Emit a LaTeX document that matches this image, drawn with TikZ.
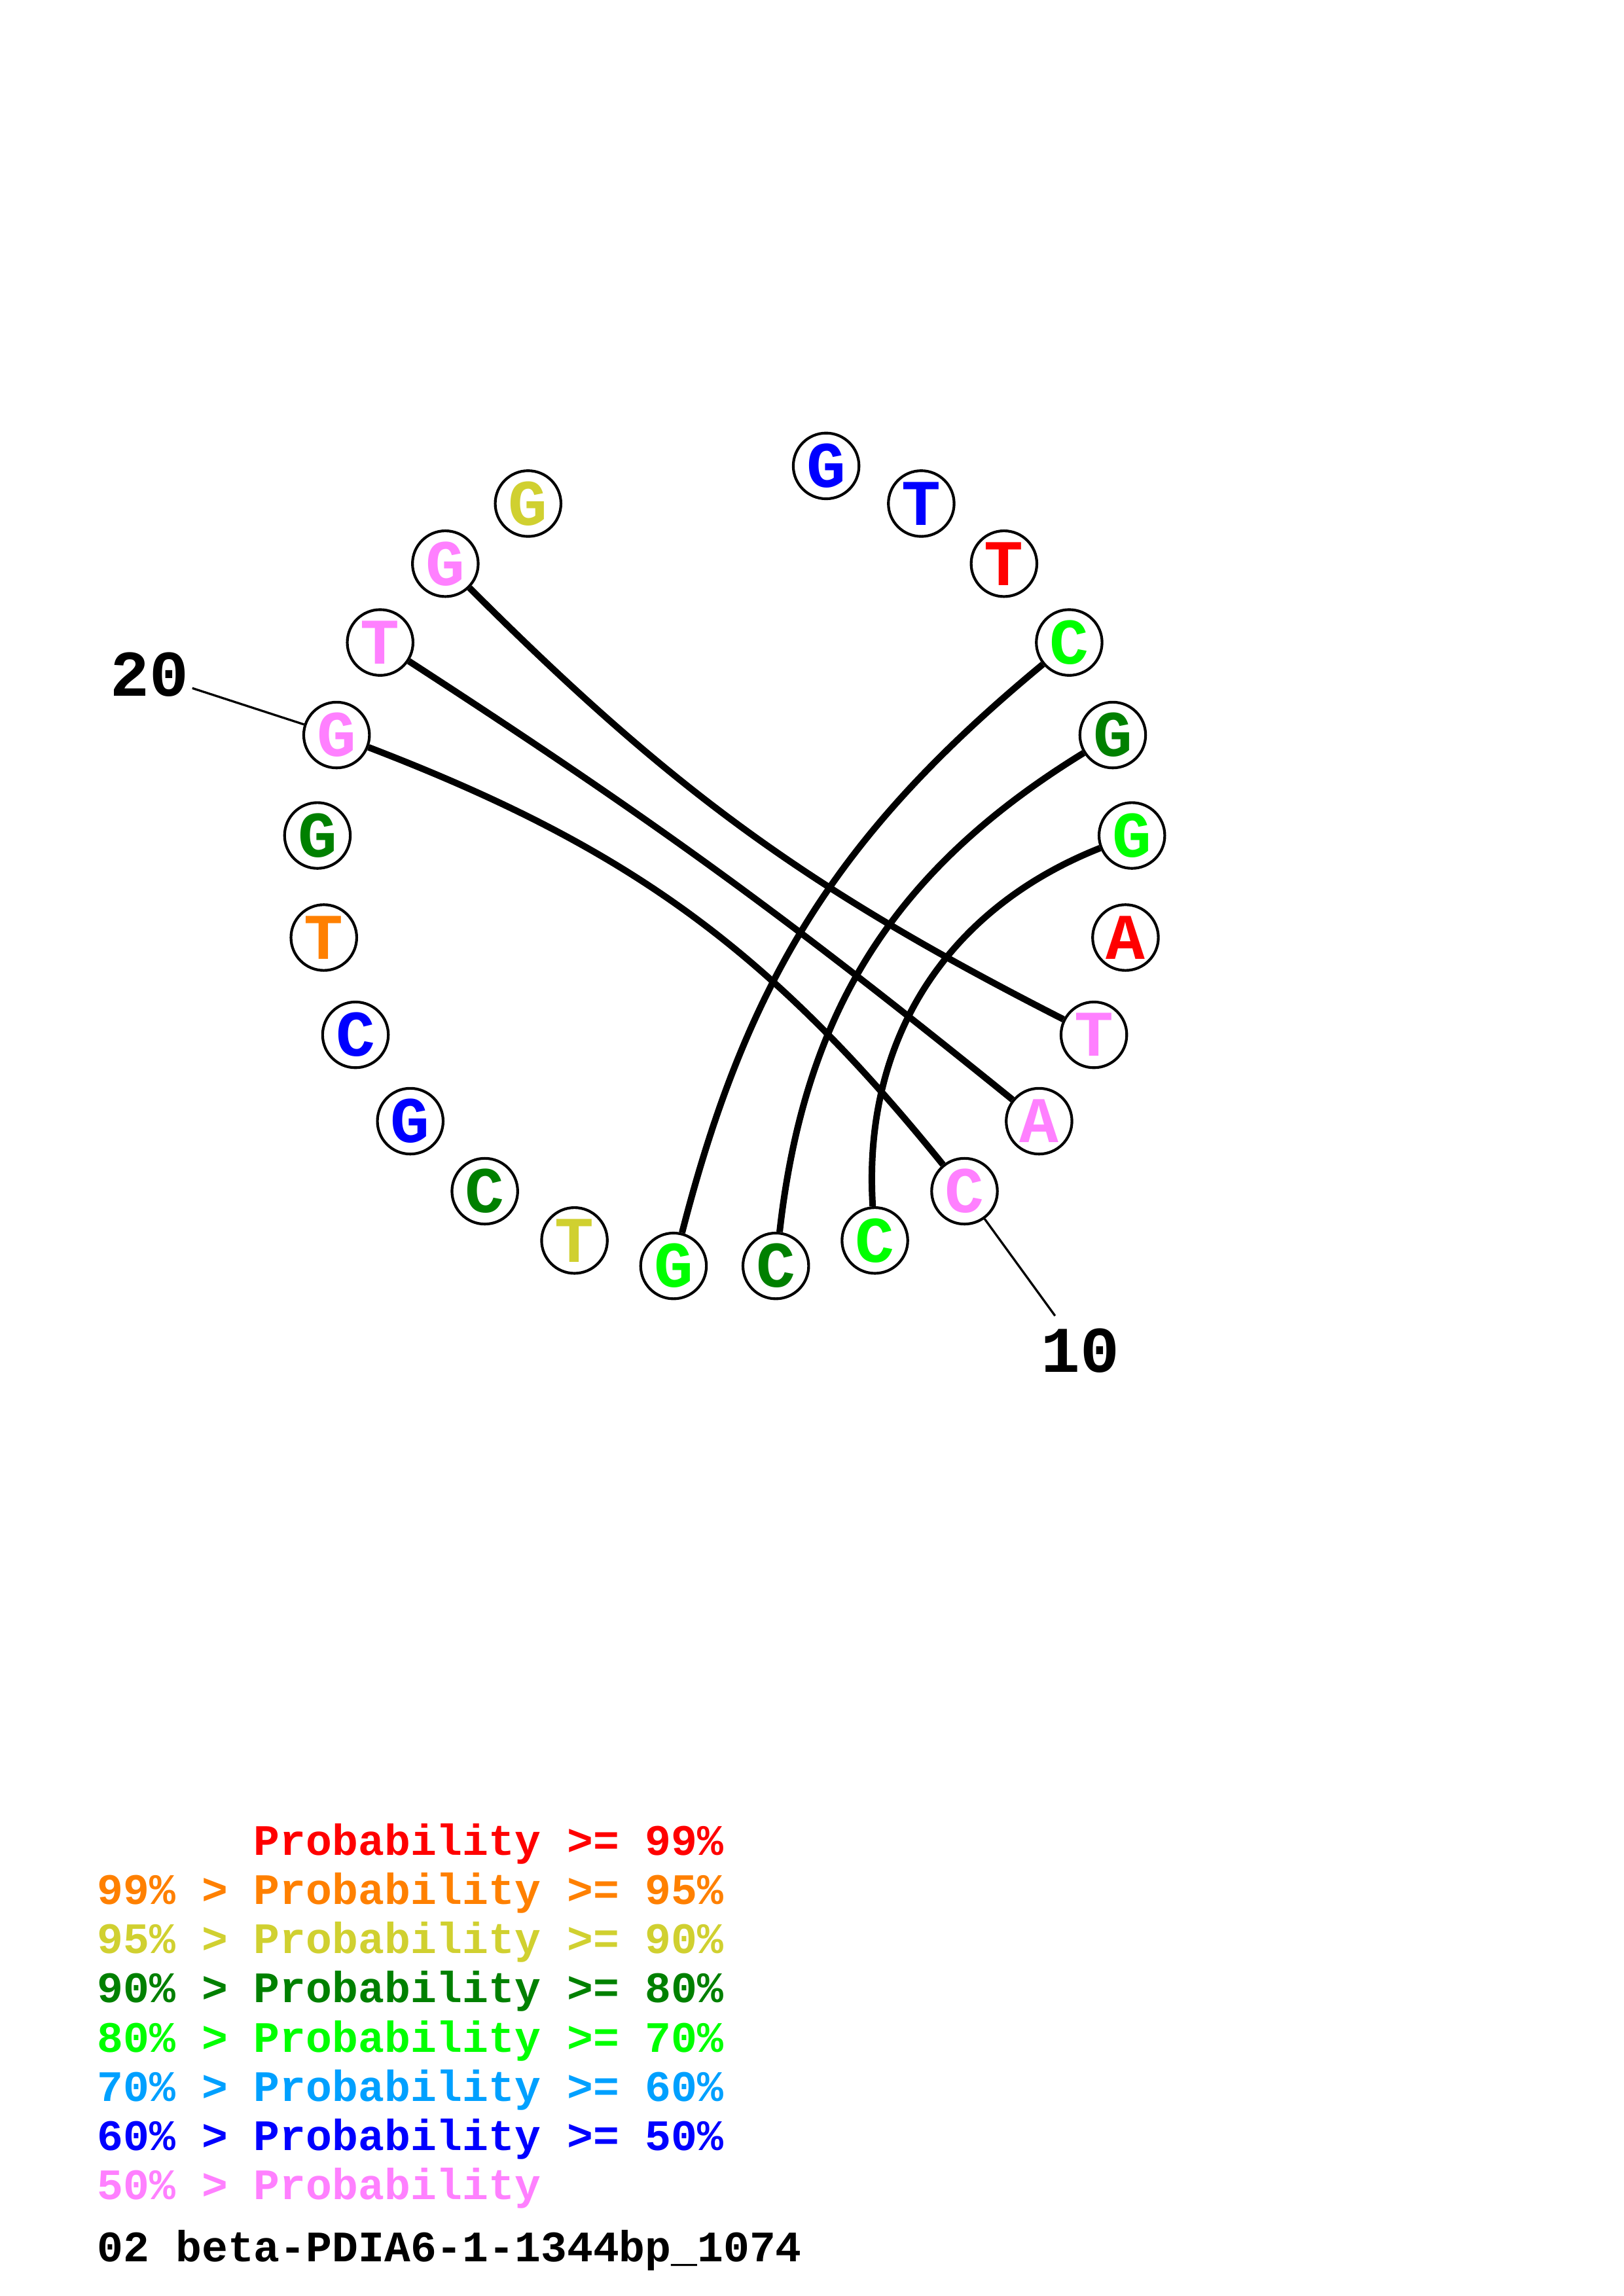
\documentclass[tikz,border=0pt]{standalone}
\usepackage{fontspec}
\setmonofont{Liberation Mono}
\definecolor{pr99}{RGB}{255,0,0}
\definecolor{pr95}{RGB}{255,128,0}
\definecolor{pr90}{RGB}{208,208,48}
\definecolor{pr80}{RGB}{0,128,0}
\definecolor{pr70}{RGB}{0,255,0}
\definecolor{pr60}{RGB}{0,160,255}
\definecolor{pr50}{RGB}{0,0,255}
\definecolor{prlow}{RGB}{255,128,255}
\tikzset{
  base/.style={circle, draw, line width=1pt, fill=white, minimum size=0.85cm, inner sep=0pt,
    font=\ttfamily\bfseries\fontsize{24}{24}\selectfont},
  pair/.style={line width=2.4pt},
  tick/.style={line width=0.8pt},
  numlabel/.style={inner sep=0pt, font=\ttfamily\bfseries\fontsize{24}{24}\selectfont},
  legend/.style={anchor=base west, inner sep=0pt, font=\ttfamily\bfseries\fontsize{16}{16}\selectfont},
}
\begin{document}
\begin{tikzpicture}
\useasboundingbox (-9.373,-18.561) rectangle (11.627,11.139);
\foreach \i/\b/\c in {1/G/pr50, 2/T/pr50, 3/T/pr99, 4/C/pr70, 5/G/pr80, 6/G/pr70, 7/A/pr99,
    8/T/prlow, 9/A/prlow, 10/C/prlow, 11/C/pr70, 12/C/pr80, 13/G/pr70, 14/T/pr90, 15/C/pr80,
    16/G/pr50, 17/C/pr50, 18/T/pr95, 19/G/pr80, 20/G/prlow, 21/T/prlow, 22/G/prlow, 23/G/pr90} {
  \node[base, text=\c] (N\i) at ({90-14.4*\i}:5.278) {\b};
}
\draw[pair] (N4) to[bend right=18] (N13);
\draw[pair] (N5) to[bend right=26] (N12);
\draw[pair] (N6) to[bend right=36] (N11);
\draw[pair] (N10) to[bend right=15] (N20);
\draw[pair] (N9) to[bend right=3] (N21);
\draw[pair] (N8) to[bend left=9] (N22);

\coordinate (T10) at (-54:7.27);
\coordinate (T20) at (162:7.24);
\node[numlabel] (L10) at (-54:7.83) {10};
\node[numlabel] (L20) at (162:7.82) {20};
\draw[tick] (N10) -- (T10);
\draw[tick] (N20) -- (T20);

\foreach \k/\c/\txt in {0/pr99/{\phantom{99\% > }Probability >= 99\%},
    1/pr95/{99\% > Probability >= 95\%}, 2/pr90/{95\% > Probability >= 90\%},
    3/pr80/{90\% > Probability >= 80\%}, 4/pr70/{80\% > Probability >= 70\%},
    5/pr60/{70\% > Probability >= 60\%}, 6/pr50/{60\% > Probability >= 50\%},
    7/prlow/{50\% > Probability}} {
  \node[legend, text=\c] (Leg\k) at (-8.12, {-12.856-0.637*\k}) {\txt};
}
\node[legend] (Title) at (-8.12,-18.115) {02 beta-PDIA6-1-1344bp\_1074};
\end{tikzpicture}
\end{document}
